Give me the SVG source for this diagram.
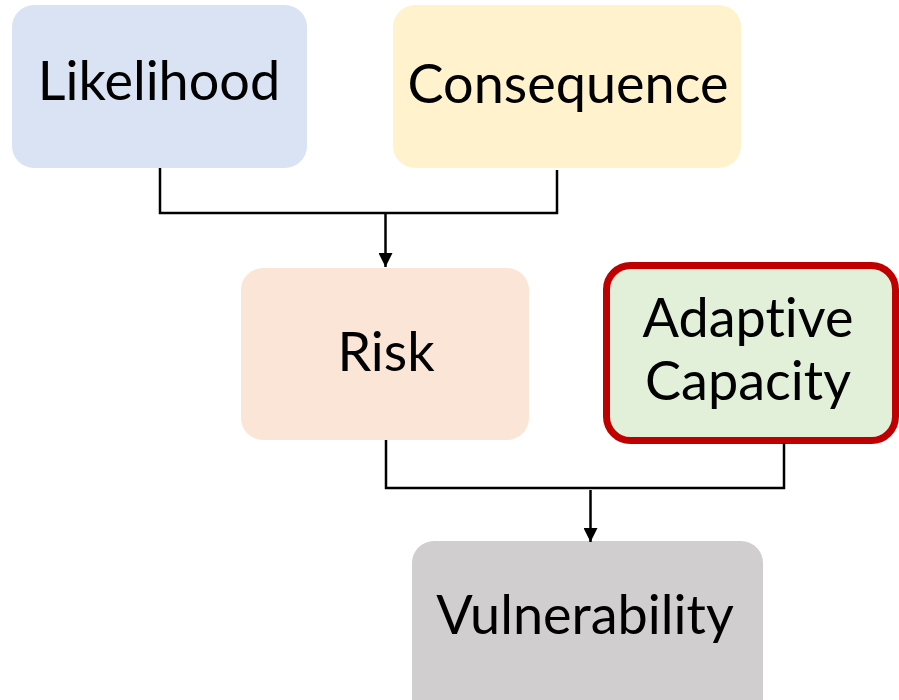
<svg xmlns="http://www.w3.org/2000/svg" width="899" height="700" viewBox="0 0 899 700">
<defs>
<marker id="arr" viewBox="0 0 10 10" refX="10" refY="5" markerWidth="6" markerHeight="5.6" markerUnits="strokeWidth" orient="auto">
<path d="M0,0 L10,5 L0,10 z" fill="#000"/>
</marker>
</defs>
<style>
.lbl{font-family:Lato,"Liberation Sans",sans-serif;font-size:54px;fill:#000;text-anchor:middle;font-variant-ligatures:none;font-feature-settings:"liga" 0}
.conn{fill:none;stroke:#000;stroke-width:2.5}
</style>
<rect width="899" height="700" fill="#fff"/>
<g id="likelihood">
<rect x="12" y="5" width="295" height="163" rx="22" fill="#DAE3F3"/>
<text class="lbl" x="159" y="100">Likelihood</text>
</g>
<g id="consequence">
<rect x="393" y="5" width="348" height="163" rx="22" fill="#FFF2CC"/>
<text class="lbl" x="568" y="103">Consequence</text>
</g>
<g id="risk">
<rect x="241" y="268" width="288" height="172" rx="22" fill="#FBE5D6"/>
<text class="lbl" x="386" y="371">Risk</text>
</g>
<g id="adaptive">
<rect x="606.5" y="265.5" width="289" height="175" rx="24" fill="#E2F0D9" stroke="#C00000" stroke-width="7"/>
<text class="lbl" x="748" y="337">Adaptive</text>
<text class="lbl" x="748" y="400">Capacity</text>
</g>
<g id="vulnerability">
<rect x="412" y="541" width="351" height="180" rx="22" fill="#D0CECE"/>
<text class="lbl" x="585" y="634">Vulnerability</text>
</g>
<g id="connectors">
<path class="conn" d="M160,168 V213 H557 V170"/>
<path class="conn" d="M385.5,214 V267" marker-end="url(#arr)"/>
<path class="conn" d="M386,440 V488 H784 V443"/>
<path class="conn" d="M590.5,490 V542" marker-end="url(#arr)"/>
</g>
</svg>
